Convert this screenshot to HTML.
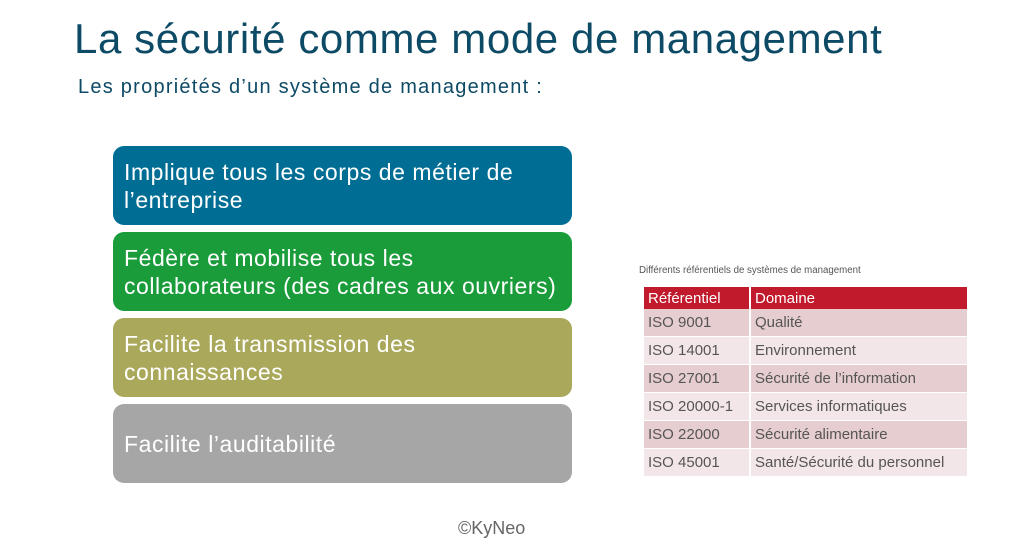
<!DOCTYPE html>
<html><head><meta charset="utf-8"><style>
body{margin:0;width:1015px;height:546px;background:#fff;font-family:"Liberation Sans",sans-serif;position:relative;overflow:hidden}
.t{position:absolute;left:74px;top:15px;font-size:42px;color:#0d4a65;white-space:nowrap;letter-spacing:0.6px}
.s{position:absolute;left:78px;top:76px;font-size:20px;color:#0d4a65;white-space:nowrap;letter-spacing:1.25px}
.b{position:absolute;left:113px;width:459px;height:79px;border-radius:11px;color:#fff;font-size:23px;line-height:28px;padding-left:11px;box-sizing:border-box;display:flex;align-items:center;letter-spacing:0.55px}
table{position:absolute;left:644px;top:287px;border-collapse:collapse;font-size:15px;color:#555}
td{height:27px;padding:0 0 0 4px;border-right:2px solid #fff;border-bottom:1px solid #fff}
th{background:#c01a2c;color:#fff;font-weight:normal;text-align:left;height:22px;padding:0 0 0 4px;border-right:2px solid #fff}
tr:nth-child(even) td{background:#e6cdd0}
tr:nth-child(odd) td{background:#f3e6e8}
.cap{position:absolute;left:639px;top:265px;font-size:9.7px;color:#555}
.f{position:absolute;left:458px;top:518px;font-size:18px;color:#666}
</style></head><body>
<div class="t">La sécurité comme mode de management</div>
<div class="s">Les propriétés d’un système de management :</div>
<div class="b" style="top:146px;background:#006e94">Implique tous les corps de métier de<br>l’entreprise</div>
<div class="b" style="top:232px;background:#1b9c3b">Fédère et mobilise tous les<br>collaborateurs (des cadres aux ouvriers)</div>
<div class="b" style="top:318px;background:#aaa95b">Facilite la transmission des<br>connaissances</div>
<div class="b" style="top:404px;background:#a6a6a6">Facilite l’auditabilité</div>
<div class="cap">Différents référentiels de systèmes de management</div>
<table>
<tr><th style="width:101px">Référentiel</th><th style="width:212px">Domaine</th></tr>
<tr><td>ISO 9001</td><td>Qualité</td></tr>
<tr><td>ISO 14001</td><td>Environnement</td></tr>
<tr><td>ISO 27001</td><td>Sécurité de l’information</td></tr>
<tr><td>ISO 20000-1</td><td>Services informatiques</td></tr>
<tr><td>ISO 22000</td><td>Sécurité alimentaire</td></tr>
<tr><td>ISO 45001</td><td>Santé/Sécurité du personnel</td></tr>
</table>
<div class="f">©KyNeo</div>
</body></html>
